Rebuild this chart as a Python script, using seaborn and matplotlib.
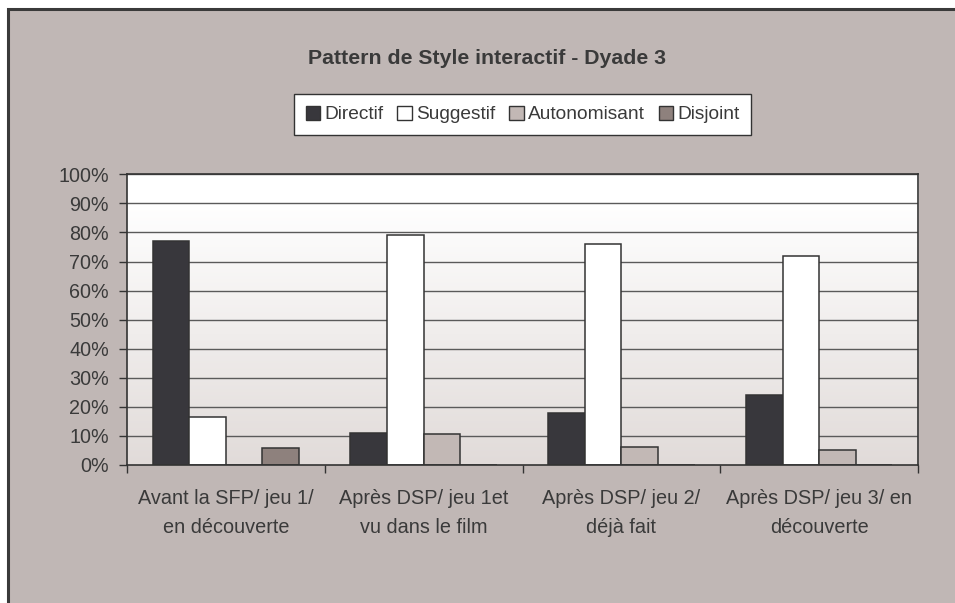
import numpy as np
import pandas as pd
import matplotlib
matplotlib.use("Agg")
import matplotlib.pyplot as plt
import matplotlib.colors as mcolors
from matplotlib.patches import Rectangle
import seaborn as sns

# Data: share of each interactive style per session
categories = [
    "Avant la SFP/ jeu 1/\nen découverte",
    "Après DSP/ jeu 1et\nvu dans le film",
    "Après DSP/ jeu 2/\ndéjà fait",
    "Après DSP/ jeu 3/ en\ndécouverte",
]
styles = ["Directif", "Suggestif", "Autonomisant", "Disjoint"]
directif = [77, 11, 18, 24]
suggestif = [16.6, 79, 76, 72]
autonomisant = [0, 10.8, 6.2, 5]
disjoint = [5.7, 0, 0, 0]
yticks = [0, 10, 20, 30, 40, 50, 60, 70, 80, 90, 100]

colors = ["#38373c", "#ffffff", "#c2b8b5", "#8e817d"]
bg = "#c0b7b5"
text_col = "#3a3a3a"
edge = "#333333"

rows = []
for s, vals in zip(styles, [directif, suggestif, autonomisant, disjoint]):
    for c, v in zip(categories, vals):
        rows.append({"session": c, "style": s, "value": v})
df = pd.DataFrame(rows)

sns.set_theme(style="white")
plt.rcParams["font.family"] = ["Liberation Sans", "DejaVu Sans"]

W, H = 955, 603
fig = plt.figure(figsize=(W / 100, H / 100), dpi=100)
fig.patch.set_facecolor("white")

# Chart area panel with dark frame (extends past the right/bottom edge)
panel = fig.add_axes([0, 0, 1, 1], zorder=-5)
panel.set_axis_off()
panel.set_xlim(0, 1)
panel.set_ylim(0, 1)
panel.add_patch(Rectangle((8 / W, -0.05), 1.1, 1 - 8.5 / H + 0.05,
                          facecolor=bg, edgecolor="#3a3a3a", linewidth=2.2,
                          clip_on=False))

ax = fig.add_axes([127 / W, (H - 465) / H, (918 - 127) / W, (465 - 174.3) / H])
ax.set_facecolor("none")

sns.barplot(data=df, x="session", y="value", hue="style", hue_order=styles,
            order=categories, palette=colors, width=0.74, edgecolor=edge,
            linewidth=1.1, saturation=1, ax=ax, legend=False, zorder=3)

ax.set_xlim(-0.5, 3.5)
ax.set_ylim(0, 100)

# Plot area gradient: white near the top fading to a warm light grey
top = np.array(mcolors.to_rgb("#ffffff"))
bot = np.array(mcolors.to_rgb("#e1dbd9"))
yy = np.linspace(1, 0, 256)
t = np.clip((0.9 - yy) / 0.9, 0, 1)
grad = (top[None, :] * (1 - t[:, None]) + bot[None, :] * t[:, None])[:, None, :]
ax.imshow(grad, extent=[-0.5, 3.5, 0, 100], aspect="auto", zorder=0,
          interpolation="bilinear")

for y in yticks[1:]:
    ax.axhline(y, color="#5a5a5a", lw=1.0, zorder=1)

ax.set_yticks(yticks)
ax.set_yticklabels([f"{v}%" for v in yticks])
ax.set_xticks(range(len(categories)))
ax.set_xticklabels(categories, linespacing=1.7)
ax.set_xticks(np.arange(-0.5, 4, 1), minor=True)
ax.tick_params(axis="x", which="major", length=0, pad=17, labelsize=14.3,
               colors=text_col)
ax.tick_params(axis="x", which="minor", length=6, width=1, color=edge,
               direction="out", bottom=True)
ax.tick_params(axis="y", length=6, width=1, color=edge, direction="out",
               left=True, pad=7, labelsize=14.2, labelcolor=text_col)
ax.set_xlabel("")
ax.set_ylabel("")
for sp in ax.spines.values():
    sp.set_visible(True)
    sp.set_color(edge)
    sp.set_linewidth(1.2)
    sp.set_zorder(4)

fig.text(487 / W, 1 - 58 / H, "Pattern de Style interactif - Dyade 3",
         ha="center", va="center", fontsize=15.3, fontweight="bold",
         color=text_col)

handles = [Rectangle((0, 0), 1, 1, facecolor=c, edgecolor=edge, linewidth=1)
           for c in colors]
leg = fig.legend(handles, styles, loc="center", ncol=4,
                 bbox_to_anchor=(522.5 / W, 1 - 114.5 / H),
                 fontsize=13.8, frameon=True, fancybox=False,
                 edgecolor="#333333", facecolor="white", framealpha=1,
                 handlelength=0.75, handleheight=0.75, handletextpad=0.2,
                 columnspacing=0.75, borderpad=0.6, borderaxespad=0)
leg.get_frame().set_linewidth(1.0)
for txt in leg.get_texts():
    txt.set_color(text_col)

fig.savefig("out.png", dpi=100)
